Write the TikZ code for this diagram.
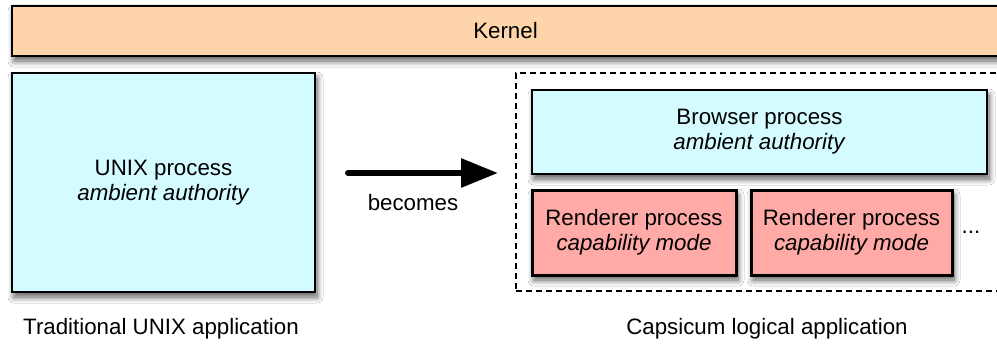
\documentclass[tikz,border=0pt]{standalone}
\usepackage{fontspec}
\setmainfont{Liberation Sans}
\usetikzlibrary{arrows.meta,shadows.blur}
\definecolor{kernelc}{RGB}{254,213,170}
\definecolor{ambc}{RGB}{212,251,255}
\definecolor{capc}{RGB}{255,170,166}
\tikzset{
  sh/.style={blur shadow={shadow xshift=2pt,shadow yshift=-5pt,shadow blur radius=6pt,shadow blur steps=10,shadow opacity=65}},
  box/.style={draw=black,line width=1.5pt,rectangle,inner sep=0pt,align=center,sh,font=\fontsize{22.3}{25}\selectfont},
  ambbox/.style={box,fill=ambc},
  capbox/.style={box,fill=capc,line width=3pt},
  lbl/.style={font=\fontsize{22.3}{25}\selectfont,inner sep=0pt}
}
\begin{document}
\begin{tikzpicture}[x=1pt,y=-1pt]
\useasboundingbox (0,0) rectangle (997,345);
\clip (0,0) rectangle (997,345);
\fill[white] (0,0) rectangle (997,345);
\node[box,fill=kernelc,minimum width=987pt,minimum height=50pt] (kernel) at (505.5,31) {Kernel};
\node[ambbox,minimum width=303pt,minimum height=219pt] (unix) at (163.5,182.5) {UNIX process\\\textit{ambient authority}};
\node[lbl] (tlabel) at (161,329) {Traditional UNIX application};
\node[draw=black,dashed,dash pattern=on 6pt off 4pt,line width=1.5pt,rectangle,inner sep=0pt,minimum width=506pt,minimum height=218pt] (caps) at (769,182) {};
\node[lbl] (clabel) at (767,329) {Capsicum logical application};
\node[ambbox,minimum width=455pt,minimum height=84pt] (browser) at (759.5,132) {Browser process\\\textit{ambient authority}};
\node[capbox,minimum width=204pt,minimum height=85pt] (r1) at (634,232.5) {Renderer process\\\textit{capability mode}};
\node[capbox,minimum width=201pt,minimum height=85pt] (r2) at (851.5,232.5) {Renderer process\\\textit{capability mode}};
\node[lbl] (dots) at (971,232) {...};
\coordinate (a1) at (348,173);
\coordinate (a2) at (498,173);
\draw[line width=6pt,line cap=round,-{Triangle[length=37pt,width=28pt]}] (a1) -- (a2);
\node[lbl] (becomes) at (413,203) {becomes};
\end{tikzpicture}
\end{document}
